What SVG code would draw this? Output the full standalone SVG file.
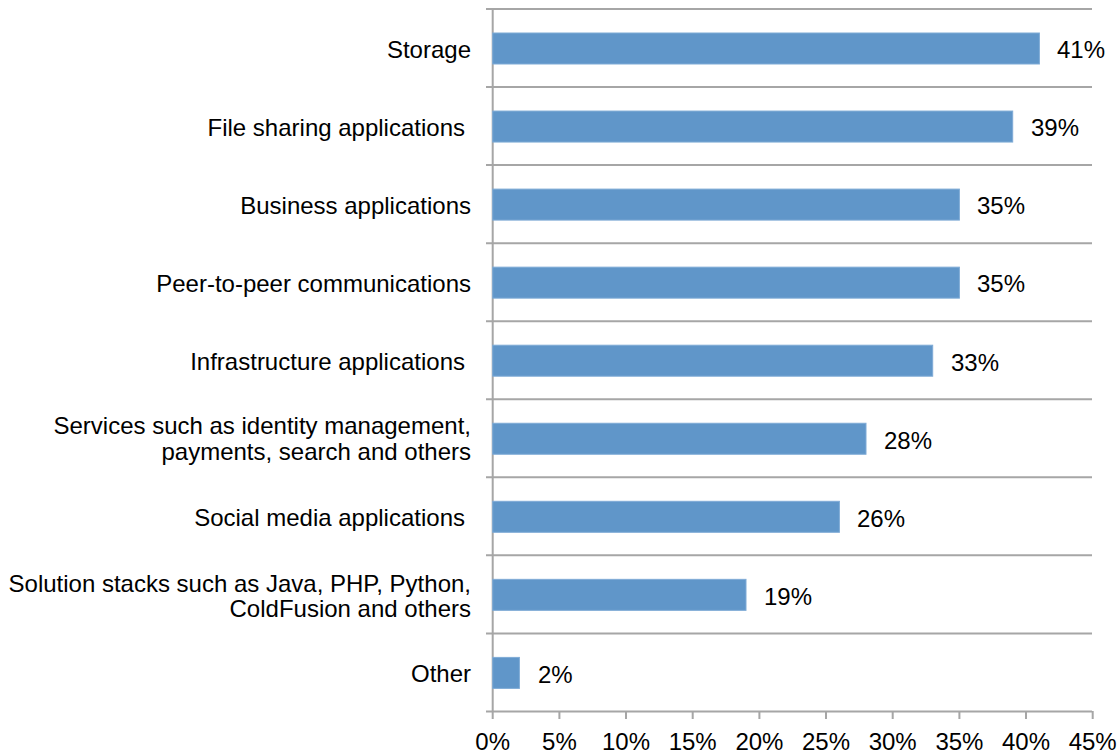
<svg xmlns="http://www.w3.org/2000/svg" width="1120" height="753" viewBox="0 0 1120 753">
  <style>
    .grid { stroke: #A6A6A6; stroke-width: 2; fill: none; }
    .bar { fill: #6096C9; stroke: #7FABD6; stroke-width: 1; }
    .lbl { font-family: "Liberation Sans", Arial, sans-serif; font-size: 24px; fill: #000; }
    .cat { text-anchor: end; }
    .tick { text-anchor: middle; }
  </style>
  <rect width="1120" height="753" fill="#fff"/>

  <!-- gridlines, axes and tick marks -->
  <g id="axes">
    <path class="grid" d="M486,9H1092 M486,87.05H1092 M486,165.1H1092 M486,243.15H1092 M486,321.2H1092 M486,399.25H1092 M486,477.3H1092 M486,555.35H1092 M486,633.4H1092 M486,711.45H1092"/>
    <path class="grid" d="M492.7,9V719 M559.4,711V719 M626,711V719 M692.7,711V719 M759.4,711V719 M826,711V719 M892.7,711V719 M959.4,711V719 M1026,711V719 M1092.7,711V719"/>
    <g class="lbl tick">
      <text x="492.7" y="750">0%</text>
      <text x="559.4" y="750">5%</text>
      <text x="626" y="750">10%</text>
      <text x="692.7" y="750">15%</text>
      <text x="759.4" y="750">20%</text>
      <text x="826" y="750">25%</text>
      <text x="892.7" y="750">30%</text>
      <text x="959.4" y="750">35%</text>
      <text x="1026" y="750">40%</text>
      <text x="1092.7" y="750">45%</text>
    </g>
  </g>

  <!-- bars: x end = 492.7 + value * 13.333 -->
  <g id="row-storage">
    <rect class="bar" x="492.7" y="33" width="546.7" height="31"/>
    <text class="lbl cat" x="471" y="57.5">Storage</text>
    <text class="lbl" x="1057" y="58.3">41%</text>
  </g>
  <g id="row-file-sharing">
    <rect class="bar" x="492.7" y="111.05" width="520" height="31"/>
    <text class="lbl cat" x="465" y="135.5">File sharing applications</text>
    <text class="lbl" x="1031" y="136.3">39%</text>
  </g>
  <g id="row-business">
    <rect class="bar" x="492.7" y="189.1" width="466.7" height="31"/>
    <text class="lbl cat" x="471" y="213.6">Business applications</text>
    <text class="lbl" x="977" y="214.4">35%</text>
  </g>
  <g id="row-p2p">
    <rect class="bar" x="492.7" y="267.15" width="466.7" height="31"/>
    <text class="lbl cat" x="471" y="291.6">Peer-to-peer communications</text>
    <text class="lbl" x="977" y="292.4">35%</text>
  </g>
  <g id="row-infrastructure">
    <rect class="bar" x="492.7" y="345.2" width="440" height="31"/>
    <text class="lbl cat" x="465" y="369.7">Infrastructure applications</text>
    <text class="lbl" x="951" y="370.5">33%</text>
  </g>
  <g id="row-services">
    <rect class="bar" x="492.7" y="423.25" width="373.3" height="31"/>
    <text class="lbl cat" x="471" y="434">Services such as identity management,</text>
    <text class="lbl cat" x="471" y="459.5">payments, search and others</text>
    <text class="lbl" x="884" y="448.5">28%</text>
  </g>
  <g id="row-social">
    <rect class="bar" x="492.7" y="501.3" width="346.7" height="31"/>
    <text class="lbl cat" x="465" y="525.8">Social media applications</text>
    <text class="lbl" x="857" y="526.6">26%</text>
  </g>
  <g id="row-solution-stacks">
    <rect class="bar" x="492.7" y="579.35" width="253.3" height="31"/>
    <text class="lbl cat" x="471" y="592">Solution stacks such as Java, PHP, Python,</text>
    <text class="lbl cat" x="471" y="616.5">ColdFusion and others</text>
    <text class="lbl" x="764" y="604.7">19%</text>
  </g>
  <g id="row-other">
    <rect class="bar" x="492.7" y="657.4" width="26.7" height="31"/>
    <text class="lbl cat" x="471" y="681.9">Other</text>
    <text class="lbl" x="538" y="682.7">2%</text>
  </g>
</svg>
